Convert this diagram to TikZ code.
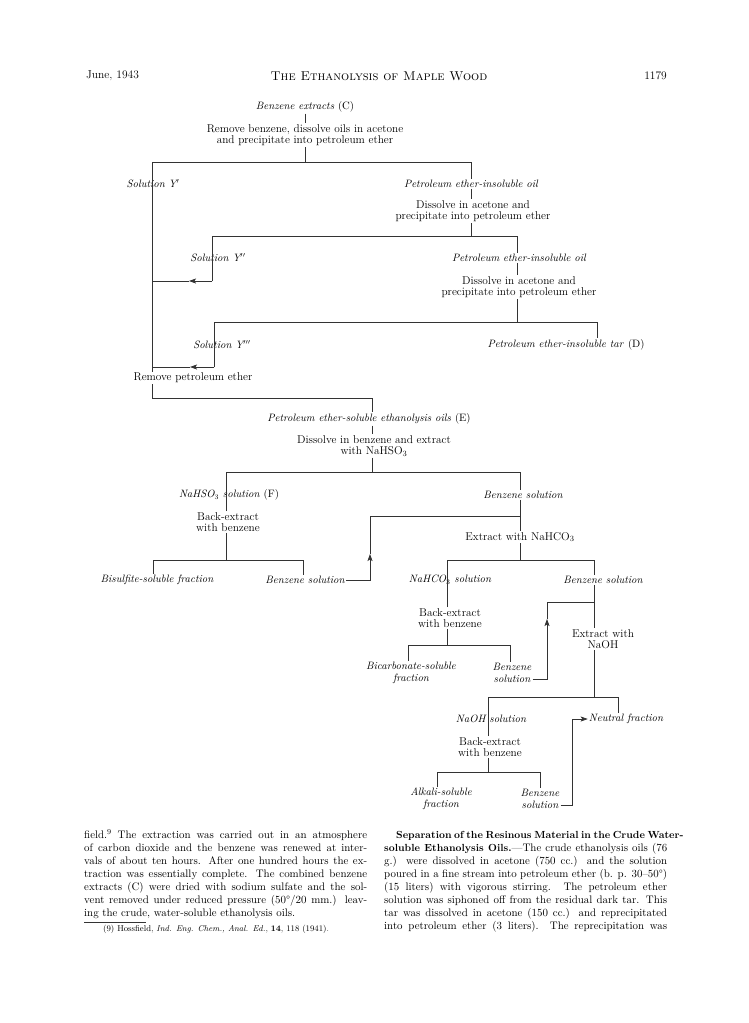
\documentclass[tikz,border=0pt]{standalone}
\usetikzlibrary{arrows.meta,calc}
\begin{document}
\begin{tikzpicture}[x=1pt,y=-1pt,
  ln/.style={line width=0.7pt, black!80},
  arr/.style={-{Stealth[length=7pt,width=5pt,inset=1.5pt]}},
  it/.style={font=\fontsize{10.7}{11.6}\selectfont\itshape, inner sep=1pt, align=center, text=black},
  rm/.style={font=\fontsize{11.3}{11.6}\selectfont, inner sep=1pt, align=center, text=black},
  hdr/.style={font=\fontsize{11.5}{13}\selectfont, inner sep=0pt, text=black},
  body/.style={font=\fontsize{10.9}{13}\selectfont, inner sep=0pt, anchor=base west, text=black},
  fn/.style={font=\fontsize{8.5}{10}\selectfont, inner sep=0pt, anchor=base west, text=black}]
\useasboundingbox[fill=white] (0,0) rectangle (748,1023);

% header
\node[hdr, anchor=west] (june) at (86,76) {June, 1943};
\node[hdr, font=\fontsize{12.8}{14}\selectfont] (title) at (379,76) {\textsc{The Ethanolysis of Maple Wood}};
\node[hdr, anchor=east] (pg) at (667,76) {1179};

% flowchart nodes
\node[it] (C) at (305,107) {Benzene extracts \textup{(C)}};
\node[rm] (s1) at (305,135) {Remove benzene, dissolve oils in acetone\\and precipitate into petroleum ether};
\node[it] (Y1) at (153,184) {Solution Y$'$};
\node[it] (P1) at (471,184) {Petroleum ether-insoluble oil};
\node[rm] (s2) at (473,211) {Dissolve in acetone and\\precipitate into petroleum ether};
\node[it] (Y2) at (218,258) {Solution Y$''$};
\node[it] (P2) at (519,258) {Petroleum ether-insoluble oil};
\node[rm] (s3) at (519,287) {Dissolve in acetone and\\precipitate into petroleum ether};
\node[it] (Y3) at (222,345) {Solution Y$'''$};
\node[it] (D) at (566,345) {Petroleum ether-insoluble tar \textup{(D)}};
\node[rm] (R) at (193,378) {Remove petroleum ether};
\node[it] (E) at (369,419) {Petroleum ether-soluble ethanolysis oils \textup{(E)}};
\node[rm] (s4) at (374,446) {Dissolve in benzene and extract\\with NaHSO$_3$};
\node[it] (F) at (229,495) {NaHSO$_3$ solution \textup{(F)}};
\node[rm] (s5) at (228,522) {Back-extract\\with benzene};
\node[it] (BS) at (157,580) {Bisulfite-soluble fraction};
\node[it] (B1) at (305,580) {Benzene solution};
\node[it] (BZ) at (523,495) {Benzene solution};
\node[rm] (s6) at (520,537) {Extract with NaHCO$_3$};
\node[it] (H) at (450,580) {NaHCO$_3$ solution};
\node[rm] (s7) at (450,618) {Back-extract\\with benzene};
\node[it] (BC) at (411,673) {Bicarbonate-soluble\\fraction};
\node[it] (B2) at (512,673) {Benzene\\solution};
\node[it] (BZ2) at (603,580) {Benzene solution};
\node[rm] (s8) at (603,639) {Extract with\\NaOH};
\node[it] (N) at (491,719) {NaOH solution};
\node[rm] (s9) at (490,747) {Back-extract\\with benzene};
\node[it] (NF) at (626,719) {Neutral fraction};
\node[it] (AS) at (441,799) {Alkali-soluble\\fraction};
\node[it] (B3) at (540,799) {Benzene\\solution};

% coordinates
\coordinate (b1L) at (152,162); \coordinate (b1R) at (471,162);
\coordinate (b2L) at (212,236); \coordinate (b2R) at (517,236);
\coordinate (a2) at (212,281); \coordinate (a2m) at (189,281); \coordinate (a2e) at (152,281);
\coordinate (b3L) at (214,322); \coordinate (b3R) at (597,322);
\coordinate (a3) at (214,367); \coordinate (a3m) at (190,367); \coordinate (a3e) at (152,367);
\coordinate (b4L) at (152,398); \coordinate (b4R) at (372,398);
\coordinate (b5L) at (226,472); \coordinate (b5R) at (520,472);
\coordinate (b6L) at (153,560); \coordinate (b6R) at (303,560);
\coordinate (r1a) at (370,580); \coordinate (r1m) at (370,554);
\coordinate (r1b) at (370,516); \coordinate (r1c) at (520,516);
\coordinate (b7L) at (447,560); \coordinate (b7R) at (594,560);
\coordinate (b8L) at (408,645); \coordinate (b8R) at (510,645);
\coordinate (r2a) at (547,679); \coordinate (r2m) at (547,619);
\coordinate (r2b) at (547,602); \coordinate (r2c) at (594,602);
\coordinate (b9L) at (488,697); \coordinate (b9R) at (618,697);
\coordinate (b10L) at (437,772); \coordinate (b10R) at (540,772);
\coordinate (r3a) at (572,805); \coordinate (r3b) at (572,719);

% connectors
\draw[ln] (C.south) -- (s1.north);
\draw[ln] (s1.south) -- (s1.south |- b1L);
\draw[ln] (R.north -| b1L) -- (b1L) -- (b1R) -- (P1.north -| b1R);
\draw[ln] (P1.south -| b1R) -- (s2.north -| b1R);
\draw[ln] (s2.south -| b1R) -- (b1R |- b2L);
\draw[ln] (a2) -- (b2L) -- (b2R) -- (P2.north -| b2R);
\draw[ln,arr] (a2) -- (a2m); \draw[ln] (a2m) -- (a2e);
\draw[ln] (P2.south -| b2R) -- (s3.north -| b2R);
\draw[ln] (s3.south -| b2R) -- (b2R |- b3L);
\draw[ln] (a3) -- (b3L) -- (b3R) -- (D.north -| b3R);
\draw[ln,arr] (a3) -- (a3m); \draw[ln] (a3m) -- (a3e);
\draw[ln] (R.south -| b4L) -- (b4L) -- (b4R) -- (E.north -| b4R);
\draw[ln] (E.south -| b4R) -- (s4.north -| b4R);
\draw[ln] (s4.south -| b4R) -- (b4R |- b5L);
\draw[ln] (s5.north -| b5L) -- (b5L) -- (b5R) -- (BZ.north -| b5R);
\draw[ln] (s5.south -| b5L) -- (b5L |- b6L);
\draw[ln] (BS.north -| b6L) -- (b6L) -- (b6R) -- (B1.north -| b6R);
\draw[ln,arr] (B1.east) -- (r1a) -- (r1m); \draw[ln] (r1m) -- (r1b) -- (r1c);
\draw[ln] (BZ.south -| b5R) -- (s6.north -| b5R);
\draw[ln] (s6.south -| b5R) -- (b5R |- b7L);
\draw[ln] (s7.north -| b7L) -- (b7L) -- (b7R) -- (BZ2.north -| b7R);
\draw[ln] (s7.south -| b7L) -- (b7L |- b8L);
\draw[ln] (BC.north -| b8L) -- (b8L) -- (b8R) -- (B2.north -| b8R);
\draw[ln,arr] (B2.east |- r2a) -- (r2a) -- (r2m); \draw[ln] (r2m) -- (r2b) -- (r2c);
\draw[ln] (BZ2.south -| b7R) -- (s8.north -| b7R);
\draw[ln] (s8.south -| b7R) -- (b7R |- b9L);
\draw[ln] (s9.north -| b9L) -- (b9L) -- (b9R) -- (NF.north -| b9R);
\draw[ln] (s9.south -| b9L) -- (b9L |- b10L);
\draw[ln] (AS.north -| b10L) -- (b10L) -- (b10R) -- (B3.north -| b10R);
\draw[ln,arr] (B3.east |- r3a) -- (r3a) -- (r3b) -- (NF.west);

% body text, left column
\node[body] (l1) at (84,838) {\makebox[283pt][s]{field.\textsuperscript{9} The extraction was carried out in an atmosphere}};
\node[body] (l2) at (84,851) {\makebox[283pt][s]{of carbon dioxide and the benzene was renewed at inter-}};
\node[body] (l3) at (84,864) {\makebox[283pt][s]{vals of about ten hours. After one hundred hours the ex-}};
\node[body] (l4) at (84,877) {\makebox[283pt][s]{traction was essentially complete. The combined benzene}};
\node[body] (l5) at (84,890) {\makebox[283pt][s]{extracts (C) were dried with sodium sulfate and the sol-}};
\node[body] (l6) at (84,903) {\makebox[283pt][s]{vent removed under reduced pressure (50°/20 mm.) leav-}};
\node[body] (l7) at (84,916) {ing the crude, water-soluble ethanolysis oils.};
\draw[line width=0.5pt, black!80] (84,922) -- (146,922);
\node[fn] (fnote) at (103,931) {(9) Hossfield, \textit{Ind. Eng. Chem., Anal. Ed.}, \textbf{14}, 118 (1941).};

% body text, right column
\node[body] (r1) at (384,838) {\makebox[283pt][s]{\hspace*{12pt}{\fontsize{10.3}{13}\selectfont\bfseries Separation of the Resinous Material in the Crude Water-}}};
\node[body] (r2) at (384,851) {\makebox[283pt][s]{{\fontsize{10.3}{13}\selectfont\bfseries soluble Ethanolysis Oils.}---The crude ethanolysis oils (76}};
\node[body] (r3) at (384,864) {\makebox[283pt][s]{g.) were dissolved in acetone (750 cc.) and the solution}};
\node[body] (r4) at (384,877) {\makebox[283pt][s]{poured in a fine stream into petroleum ether (b. p. 30--50°)}};
\node[body] (r5) at (384,890) {\makebox[283pt][s]{(15 liters) with vigorous stirring. The petroleum ether}};
\node[body] (r6) at (384,903) {\makebox[283pt][s]{solution was siphoned off from the residual dark tar. This}};
\node[body] (r7) at (384,916) {\makebox[283pt][s]{tar was dissolved in acetone (150 cc.) and reprecipitated}};
\node[body] (r8) at (384,929) {\makebox[283pt][s]{into petroleum ether (3 liters). The reprecipitation was}};
\end{tikzpicture}
\end{document}
